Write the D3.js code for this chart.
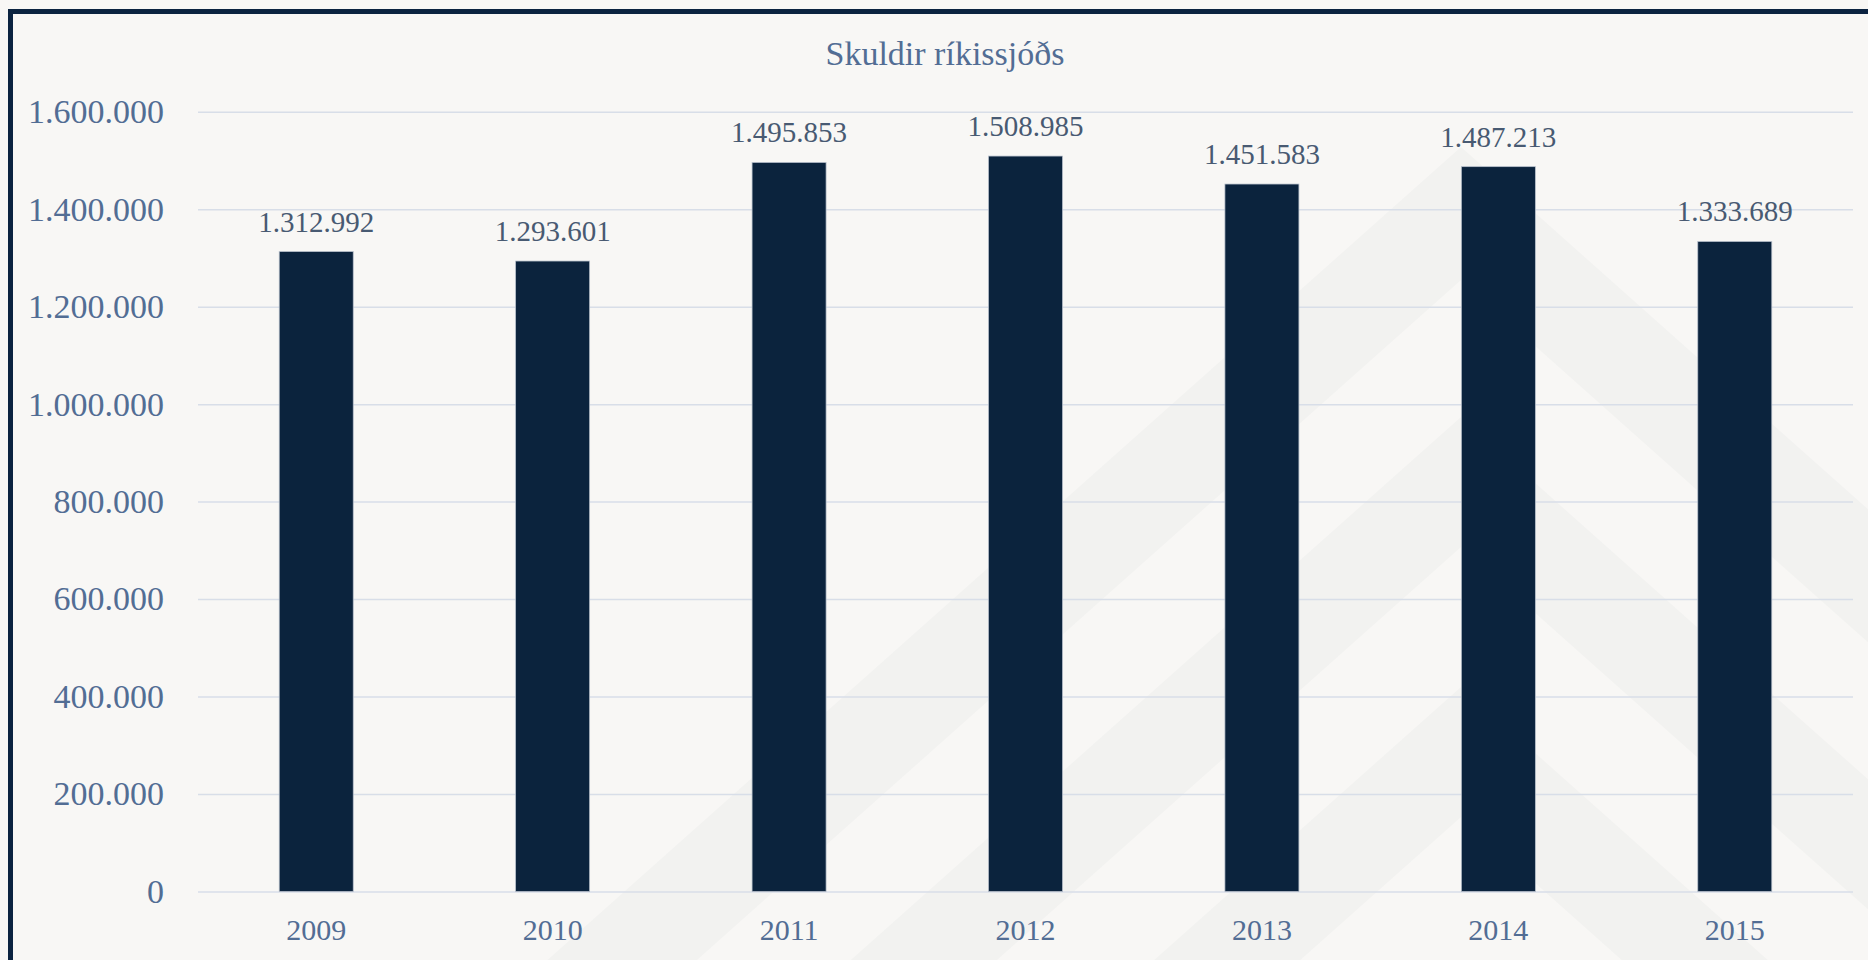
<!DOCTYPE html>
<html>
<head>
<meta charset="utf-8">
<script src="https://cdn.jsdelivr.net/npm/d3@7"></script>
<style>
  html, body { margin: 0; padding: 0; background: #f8f7f5; overflow: hidden; }
  svg { display: block; font-family: "Liberation Serif", "DejaVu Serif", serif; }
</style>
</head>
<body>
<svg width="1868" height="960"></svg>
<script>
// data (millions ISK)
const years = ["2009", "2010", "2011", "2012", "2013", "2014", "2015"];
const debt = [1312992, 1293601, 1495853, 1508985, 1451583, 1487213, 1333689];
const yTicks = [0, 200000, 400000, 600000, 800000, 1000000, 1200000, 1400000, 1600000];
const title = "Skuldir ríkissjóðs";

const svg = d3.select("svg");

const isk = d3.formatLocale({ decimal: ",", thousands: ".", grouping: [3], currency: ["", " kr."] });
const fmt = isk.format(",");

const plotLeft = 198, plotRight = 1853, plotTop = 111.7, plotBottom = 891.5;

// faint chevron watermark in background
const bg = svg.append("g");
const apexX = 1461, slope = 0.89;
const bands = [[147, 280], [417, 547], [687, 817]];
bands.forEach(b => {
  const a = b[0], c = b[1];
  const far = 1600;
  const pts = [
    [apexX, a],
    [apexX + far, a + far * slope],
    [apexX + far, c + far * slope],
    [apexX, c],
    [apexX - far, c + far * slope],
    [apexX - far, a + far * slope]
  ];
  bg.append("polygon")
    .attr("points", pts.map(p => p.join(",")).join(" "))
    .attr("fill", "#f2f2f0");
});

// frame
svg.append("rect")
  .attr("x", 10.5).attr("y", 11.5)
  .attr("width", 2000).attr("height", 1200)
  .attr("fill", "none")
  .attr("stroke", "#0b2340")
  .attr("stroke-width", 5);

const x = d3.scaleBand()
  .domain(years)
  .range([plotLeft, plotRight])
  .paddingInner(0.687)
  .paddingOuter(0.3435);

const y = d3.scaleLinear()
  .domain([0, 1600000])
  .range([plotBottom, plotTop]);

// y axis + gridlines
const yAxis = svg.append("g")
  .attr("transform", `translate(${plotLeft},0)`)
  .call(d3.axisLeft(y).tickValues(yTicks).tickFormat(fmt).tickSize(-(plotRight - plotLeft)).tickPadding(34));
yAxis.select(".domain").remove();
yAxis.selectAll(".tick line")
  .attr("stroke", "#d8dee8")
  .attr("stroke-width", 1.5);
yAxis.selectAll(".tick text")
  .attr("fill", "#526d94")
  .attr("font-size", 34)
  .attr("font-family", "Liberation Serif");

// x axis
const xAxis = svg.append("g")
  .attr("transform", `translate(0,${plotBottom})`)
  .call(d3.axisBottom(x).tickSize(0).tickPadding(27));
xAxis.select(".domain").remove();
xAxis.selectAll(".tick text")
  .attr("fill", "#526d94")
  .attr("font-size", 30)
  .attr("font-family", "Liberation Serif");

// bars
svg.selectAll("rect.bar")
  .data(debt)
  .enter()
  .append("rect")
  .attr("class", "bar")
  .attr("x", (d, i) => x(years[i]))
  .attr("y", d => y(d))
  .attr("width", x.bandwidth())
  .attr("height", d => plotBottom - y(d))
  .attr("fill", "#0b233d")
  .attr("stroke", "#b8c0cc")
  .attr("stroke-width", 0.75);

// value labels
svg.selectAll("text.val")
  .data(debt)
  .enter()
  .append("text")
  .attr("class", "val")
  .attr("x", (d, i) => x(years[i]) + x.bandwidth() / 2)
  .attr("y", d => y(d) - 20)
  .attr("text-anchor", "middle")
  .attr("fill", "#485a72")
  .attr("font-size", 29)
  .text(d => fmt(d));

// title
svg.append("text")
  .attr("x", 945)
  .attr("y", 65)
  .attr("text-anchor", "middle")
  .attr("fill", "#526d94")
  .attr("font-size", 34)
  .text(title);
</script>
</body>
</html>
